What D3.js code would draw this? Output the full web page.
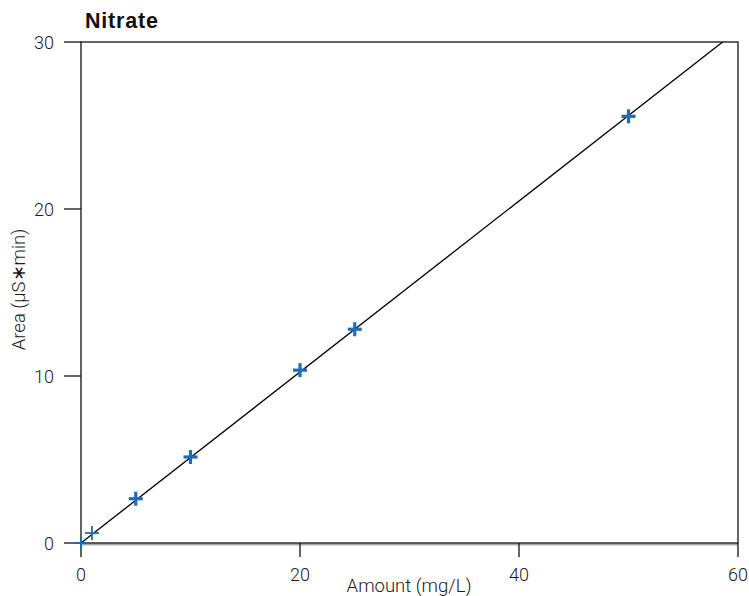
<!DOCTYPE html>
<html>
<head>
    <title>Nitrate</title>
    <script src="https://d3js.org/d3.v7.min.js"></script>
    <style>
        body { margin: 0; background: #fff; }
        svg { display: block; font-family: Roboto, "Liberation Sans", Arial, sans-serif; }
        .tick-label { font-size: 18px; font-weight: 300; fill: #1a1a1a; }
        .axis-title { font-size: 18.5px; font-weight: 300; fill: #1a1a1a; }
    </style>
</head>
<body>
    <div id="chart"></div>
    <script>
        const width = 749;
        const height = 596;

        // calibration standards (mg/L vs uS*min)
        const amounts = [0, 1, 5, 10, 20, 25, 50];
        const areas = [0, 0.6, 2.65, 5.15, 10.35, 12.8, 25.55];
        const thin = [true, true, false, false, false, false, false];

        // fitted line
        const slope = 0.512;
        const intercept = 0;

        const xTicks = [0, 20, 40, 60];
        const yTicks = [0, 10, 20, 30];

        const margin = { top: 42, right: 11, bottom: 53, left: 81 };
        const innerW = width - margin.left - margin.right;
        const innerH = height - margin.top - margin.bottom;

        const x = d3.scaleLinear().domain([0, 60]).range([margin.left, margin.left + innerW]);
        const y = d3.scaleLinear().domain([0, 30]).range([margin.top + innerH, margin.top]);

        const svg = d3.select('#chart').append('svg')
            .attr('width', width)
            .attr('height', height);

        // zero baseline (gray band)
        svg.append('line')
            .attr('x1', x(0)).attr('x2', x(60))
            .attr('y1', y(0) + 1.5).attr('y2', y(0) + 1.5)
            .attr('stroke', '#aaa').attr('stroke-width', 2);

        // frame
        svg.append('rect')
            .attr('x', x(0)).attr('y', y(30))
            .attr('width', x(60) - x(0)).attr('height', y(0) - y(30))
            .attr('fill', 'none').attr('stroke', '#111').attr('stroke-width', 1.3);

        // y ticks
        svg.selectAll('.ytick').data(yTicks).join('line')
            .attr('x1', x(0) - 17).attr('x2', x(0))
            .attr('y1', d => y(d)).attr('y2', d => y(d))
            .attr('stroke', '#111').attr('stroke-width', 1.3);
        svg.selectAll('.ylab').data(yTicks).join('text')
            .attr('class', 'tick-label')
            .attr('x', x(0) - 27).attr('y', d => y(d) + 7)
            .attr('text-anchor', 'end')
            .text(d => d);

        // x ticks
        svg.selectAll('.xtick').data(xTicks).join('line')
            .attr('x1', d => x(d)).attr('x2', d => x(d))
            .attr('y1', y(0)).attr('y2', y(0) + 14)
            .attr('stroke', '#111').attr('stroke-width', 1.3);
        svg.selectAll('.xlab').data(xTicks).join('text')
            .attr('class', 'tick-label')
            .attr('x', d => x(d)).attr('y', y(0) + 38)
            .attr('text-anchor', 'middle')
            .text(d => d);

        // regression line, clipped at top of plot
        const xEnd = Math.min(60, (30 - intercept) / slope);
        svg.append('line')
            .attr('x1', x(0)).attr('y1', y(intercept))
            .attr('x2', x(xEnd)).attr('y2', y(slope * xEnd + intercept))
            .attr('stroke', '#000').attr('stroke-width', 1.3);

        // markers
        const pts = amounts.map((a, i) => ({ a, v: areas[i], thin: thin[i] }));
        const s = 7;
        const g = svg.append('g');
        pts.forEach(p => {
            const cx = x(p.a), cy = y(p.v);
            const sw = p.thin ? 1.8 : 3.2;
            g.append('line').attr('x1', cx - s).attr('x2', cx + s).attr('y1', cy).attr('y2', cy)
                .attr('stroke', '#1f6db3').attr('stroke-width', sw);
            g.append('line').attr('x1', cx).attr('x2', cx).attr('y1', cy - s).attr('y2', cy + s)
                .attr('stroke', '#1f6db3').attr('stroke-width', sw);
        });

        // titles
        svg.append('text')
            .attr('x', 85).attr('y', 28)
            .attr('font-family', '"Liberation Sans", Arial, sans-serif')
            .attr('font-size', 21.5).attr('font-weight', 'bold').attr('fill', '#111')
            .attr('letter-spacing', 0.8)
            .text('Nitrate');

        svg.append('text')
            .attr('class', 'axis-title')
            .attr('x', 409).attr('y', 592)
            .attr('text-anchor', 'middle')
            .text('Amount (mg/L)');

        svg.append('text')
            .attr('class', 'axis-title')
            .attr('transform', `translate(25, ${(y(0) + y(30)) / 2 - 3}) rotate(-90)`)
            .attr('text-anchor', 'middle')
            .text('Area (µS∗min)');
    </script>
</body>
</html>
